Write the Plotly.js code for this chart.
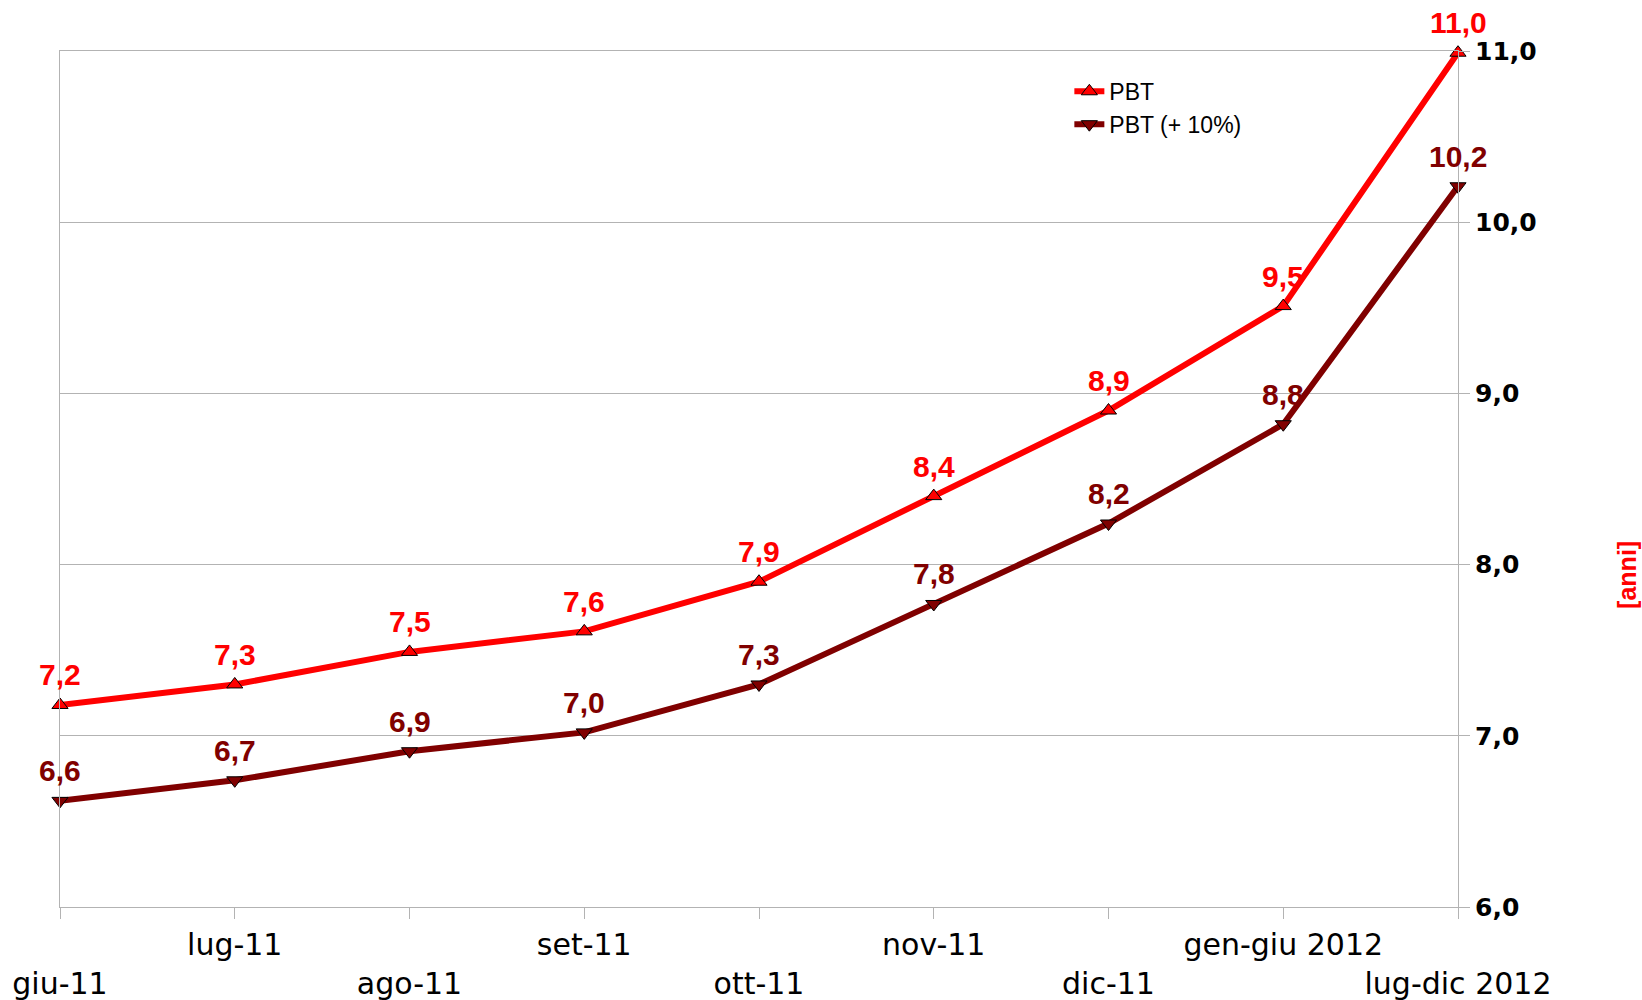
<!DOCTYPE html>
<html>
<head>
<meta charset="utf-8">
<script src="https://cdn.plot.ly/plotly-3.0.1.min.js"></script>
<style>
html, body { margin: 0; padding: 0; background: #ffffff; }
#chart { width: 1642px; height: 1000px; }
</style>
</head>
<body>
<div id="chart"></div>
<script>
// ---- data ----
const categories = ["giu-11", "lug-11", "ago-11", "set-11", "ott-11", "nov-11", "dic-11", "gen-giu 2012", "lug-dic 2012"];
const pbt = [7.18, 7.30, 7.49, 7.61, 7.90, 8.40, 8.90, 9.51, 10.99];
const pbtPlus10 = [6.62, 6.74, 6.91, 7.02, 7.30, 7.77, 8.24, 8.82, 10.21];
const seriesNames = ["PBT", "PBT (+ 10%)"];
const yTitle = "[anni]";

// category positions and staggered tick labels (two rows)
const xPos = categories.map((c, i) => i);
const tickText = categories.map((c, i) => (i % 2 === 0 ? " <br>" + c : c));

const fmt = v => v.toFixed(1).replace(".", ",");
const labelFamily = "Liberation Sans, Arial, sans-serif";

function valueLabels(values, color) {
  return values.map((v, i) => ({
    x: xPos[i], y: v, xref: "x", yref: "y",
    text: fmt(v), showarrow: false,
    xanchor: "center", yanchor: "middle", yshift: 30,
    font: { family: labelFamily, size: 30, weight: "bold", color: color }
  }));
}

const traces = [
  {
    x: xPos, y: pbt, name: seriesNames[0],
    type: "scatter", mode: "lines+markers",
    line: { color: "#ff0000", width: 6 },
    marker: { symbol: "triangle-up", size: 14, color: "#ff0000", line: { color: "#000000", width: 1 } },
    cliponaxis: false, hoverinfo: "skip"
  },
  {
    x: xPos, y: pbtPlus10, name: seriesNames[1],
    type: "scatter", mode: "lines+markers",
    line: { color: "#800000", width: 6 },
    marker: { symbol: "triangle-down", size: 14, color: "#800000", line: { color: "#000000", width: 1 } },
    cliponaxis: false, hoverinfo: "skip"
  }
];

const layout = {
  width: 1642, height: 1000,
  paper_bgcolor: "#ffffff", plot_bgcolor: "#ffffff",
  separators: ",.",
  margin: { l: 60, r: 184, t: 51, b: 93 },
  showlegend: true,
  legend: {
    x: 0.722, y: 0.978, xanchor: "left", yanchor: "top",
    bgcolor: "rgba(0,0,0,0)", borderwidth: 0,
    font: { family: labelFamily, size: 23, color: "#000000" },
    itemwidth: 30
  },
  xaxis: {
    range: [0, 8], tickmode: "array", tickvals: xPos, ticktext: tickText, tickangle: 0,
    showgrid: false, zeroline: false,
    showline: true, mirror: true, linecolor: "#b3b3b3", linewidth: 1,
    ticks: "outside", ticklen: 11, tickcolor: "#b3b3b3", tickwidth: 1,
    tickfont: { family: "DejaVu Sans, sans-serif", size: 30, color: "#000000" },
    fixedrange: true
  },
  yaxis: {
    side: "right", range: [6, 11], dtick: 1, tick0: 6, tickformat: ".1f",
    showgrid: true, gridcolor: "#b3b3b3", gridwidth: 1, zeroline: false,
    showline: true, mirror: true, linecolor: "#b3b3b3", linewidth: 1,
    ticks: "outside", ticklen: 11, tickcolor: "#b3b3b3", tickwidth: 1,
    tickfont: { family: "DejaVu Sans, sans-serif", size: 25, weight: "bold", color: "#000000" },
    fixedrange: true
  },
  annotations: [
    {
      text: yTitle, xref: "paper", yref: "paper", x: 1.1209, y: 0.388,
      xanchor: "center", yanchor: "middle", textangle: -90, showarrow: false,
      font: { family: labelFamily, size: 25, weight: "bold", color: "#ff0000" }
    }
  ].concat(valueLabels(pbt, "#ff0000"), valueLabels(pbtPlus10, "#800000"))
};

Plotly.newPlot("chart", traces, layout, { staticPlot: true, displayModeBar: false });
</script>
</body>
</html>
